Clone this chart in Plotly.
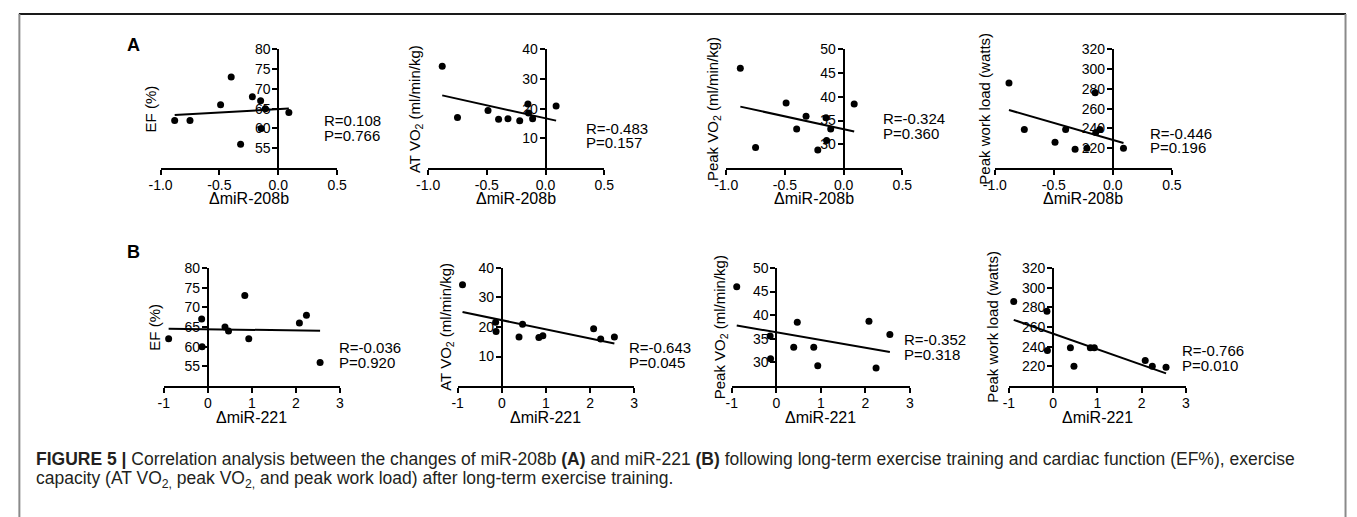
import numpy as np
import plotly.graph_objects as go

W, H = 1357, 517

# ---- data (one value per subject, same subjects in every panel) ----
delta_mir208b = [-0.88, -0.75, -0.49, -0.40, -0.32, -0.22, -0.15, -0.145, -0.11, 0.09]
delta_mir221 = [-0.89, 0.93, 2.08, 0.84, 2.55, 2.24, -0.14, -0.13, 0.39, 0.47]
ef = [62, 62, 66, 73, 56, 68, 67, 60, 65, 64]
at_vo2 = [34.3, 17.0, 19.4, 16.4, 16.6, 15.9, 21.6, 18.5, 16.6, 20.9]
peak_vo2 = [46.0, 29.3, 38.7, 33.2, 35.9, 28.8, 35.6, 30.8, 33.2, 38.5]
peak_workload = [286, 239, 226, 239, 219, 220, 276, 236, 239, 220]

r_208b = ["R=0.108", "R=-0.483", "R=-0.324", "R=-0.446"]
p_208b = ["P=0.766", "P=0.157", "P=0.360", "P=0.196"]
r_221 = ["R=-0.036", "R=-0.643", "R=-0.352", "R=-0.766"]
p_221 = ["P=0.920", "P=0.045", "P=0.318", "P=0.010"]

y_titles = ["EF (%)", "AT VO<sub>2</sub> (ml/min/kg)",
            "Peak VO<sub>2</sub> (ml/min/kg)", "Peak work load (watts)"]
y_ranges = [(50, 80), (0, 40), (25, 50), (200, 320)]
y_ticks = [[55, 60, 65, 70, 75, 80], [10, 20, 30, 40],
           [30, 35, 40, 45, 50], [220, 240, 260, 280, 300, 320]]
x_ticks_a = [-1.0, -0.5, 0.0, 0.5]
x_ticklabels_a = ["-1.0", "-0.5", "0.0", "0.5"]
x_ticks_b = [-1, 0, 1, 2, 3]
x_ticklabels_b = ["-1", "0", "1", "2", "3"]
x_title_a = "\u0394miR-208b"
x_title_b = "\u0394miR-221"

# ---- layout geometry (pixels) ----
xdom_a = [(151, 330.5), (423, 602), (726, 905), (999, 1179)]
xdom_b = [(154.3, 333.3), (453, 632.5), (731.7, 912.7), (1013.3, 1193.3)]
ydom_a = (42, 162.5)
ydom_b = (264, 384)
ytitle_x_a = [141, 410, 713, 989]
ytitle_x_b = [145, 442, 721, 997]
rp_a = [(315, 114), (581, 122), (883, 112), (1155, 127)]
rp_b = [(330, 345), (625, 345), (905, 337), (1187, 348)]
xtitle_y = {"a": 193, "b": 416}

FONT = "Liberation Sans, Arial, Helvetica, sans-serif"


def fx(px):
    return px / W


def fy(py):
    return 1 - py / H


fig = go.Figure()
ys = [ef, at_vo2, peak_vo2, peak_workload]
annotations = []

rows = [
    ("a", delta_mir208b, (-1.0, 0.5), x_ticks_a, x_ticklabels_a, xdom_a, ydom_a,
     ytitle_x_a, rp_a, r_208b, p_208b, x_title_a),
    ("b", delta_mir221, (-1, 3), x_ticks_b, x_ticklabels_b, xdom_b, ydom_b,
     ytitle_x_b, rp_b, r_221, p_221, x_title_b),
]

k = 0
for (rk, xs, xr, xt, xtl, xdoms, ydom, ytx, rps, rr, pp, xtitle) in rows:
    for j in range(4):
        k += 1
        xa = "x" if k == 1 else f"x{k}"
        ya = "y" if k == 1 else f"y{k}"
        xs_arr = np.array(xs)
        ys_arr = np.array(ys[j], dtype=float)
        fig.add_trace(go.Scatter(x=xs, y=ys[j], mode="markers",
                                 marker=dict(color="black", size=7),
                                 xaxis=xa, yaxis=ya, hoverinfo="x+y"))
        slope, icpt = np.polyfit(xs_arr, ys_arr, 1)
        lx = [float(xs_arr.min()), float(xs_arr.max())]
        ly = [slope * v + icpt for v in lx]
        fig.add_trace(go.Scatter(x=lx, y=ly, mode="lines",
                                 line=dict(color="black", width=2),
                                 xaxis=xa, yaxis=ya, hoverinfo="skip"))
        x0, x1 = xdoms[j]
        zero_px = x0 + (0 - xr[0]) / (xr[1] - xr[0]) * (x1 - x0)
        xkey = "xaxis" if k == 1 else f"xaxis{k}"
        ykey = "yaxis" if k == 1 else f"yaxis{k}"
        fig.layout[xkey] = dict(
            domain=[fx(x0), fx(x1)], range=list(xr), anchor=ya,
            showline=True, linecolor="black", linewidth=2,
            ticks="outside", ticklen=5, tickwidth=2, tickcolor="black",
            tickvals=xt, ticktext=xtl, showgrid=False, zeroline=False,
            ticklabelstandoff=-2,
            tickfont=dict(family=FONT, size=14, color="black"),
        )
        fig.layout[ykey] = dict(
            domain=[fy(ydom[1]), fy(ydom[0])], range=list(y_ranges[j]),
            anchor="free", position=fx(zero_px),
            showline=True, linecolor="black", linewidth=2,
            ticks="outside", ticklen=5, tickwidth=2, tickcolor="black",
            tickvals=y_ticks[j], showgrid=False, zeroline=False,
            ticklabelstandoff=-1,
            tickfont=dict(family=FONT, size=14, color="black"),
        )
        # axis titles
        annotations.append(dict(xref="paper", yref="paper",
                                x=fx((x0 + x1) / 2), y=fy(xtitle_y[rk]),
                                text=xtitle, showarrow=False,
                                xanchor="center", yanchor="middle",
                                font=dict(family=FONT, size=16, color="black")))
        annotations.append(dict(xref="paper", yref="paper",
                                x=fx(ytx[j]), y=fy((ydom[0] + ydom[1]) / 2),
                                text=y_titles[j], showarrow=False, textangle=-90,
                                xanchor="center", yanchor="middle",
                                font=dict(family=FONT, size=15, color="black")))
        rx, ry = rps[j]
        annotations.append(dict(xref="paper", yref="paper", x=fx(rx), y=fy(ry),
                                text=rr[j], showarrow=False, xanchor="left",
                                yanchor="middle",
                                font=dict(family=FONT, size=15, color="black")))
        annotations.append(dict(xref="paper", yref="paper", x=fx(rx), y=fy(ry + 15),
                                text=pp[j], showarrow=False, xanchor="left",
                                yanchor="middle",
                                font=dict(family=FONT, size=15, color="black")))

# panel letters
for letter, (lx_, ly_) in [("A", (124, 38)), ("B", (124, 248))]:
    annotations.append(dict(xref="paper", yref="paper", x=fx(lx_), y=fy(ly_),
                            text=f"<b>{letter}</b>", showarrow=False,
                            xanchor="center", yanchor="middle",
                            font=dict(family=FONT, size=18, color="black")))

# caption
caption_1 = ("<b>FIGURE 5 |</b> Correlation analysis between the changes of miR-208b "
             "<b>(A)</b> and miR-221 <b>(B)</b> following long-term exercise training "
             "and cardiac function (EF%), exercise")
caption_2 = ("capacity (AT VO<sub>2,</sub> peak VO<sub>2,</sub> and peak work load) "
             "after long-term exercise training.")
annotations.append(dict(xref="paper", yref="paper", x=fx(22), y=fy(458),
                        text=caption_1, showarrow=False, xanchor="left",
                        yanchor="middle",
                        font=dict(family=FONT, size=17.5, color="#231f20")))
annotations.append(dict(xref="paper", yref="paper", x=fx(22), y=fy(479),
                        text=caption_2, showarrow=False, xanchor="left",
                        yanchor="middle",
                        font=dict(family=FONT, size=17.5, color="#231f20")))

shapes = [
    dict(type="line", xref="paper", yref="paper", x0=fx(7), x1=fx(1356),
         y0=fy(6), y1=fy(6), line=dict(color="#1a1a1a", width=2)),
    dict(type="line", xref="paper", yref="paper", x0=fx(7.5), x1=fx(7.5),
         y0=fy(6), y1=0, line=dict(color="#8a8a8a", width=2)),
    dict(type="line", xref="paper", yref="paper", x0=fx(1355.5), x1=fx(1355.5),
         y0=fy(6), y1=0, line=dict(color="#8a8a8a", width=2)),
]

# the div itself is sized and pinned to the page origin (no body-margin offset)
fig.update_layout(autosize=True, margin=dict(l=0, r=0, t=0, b=0, pad=0),
                  paper_bgcolor="white", plot_bgcolor="white",
                  showlegend=False, annotations=annotations, shapes=shapes,
                  font=dict(family=FONT, color="black"))

fig.write_html("out.html", config={"displayModeBar": False, "responsive": False},
               default_width=f"{W}px; position:absolute; left:0px; top:0px",
               default_height=f"{H}px")
